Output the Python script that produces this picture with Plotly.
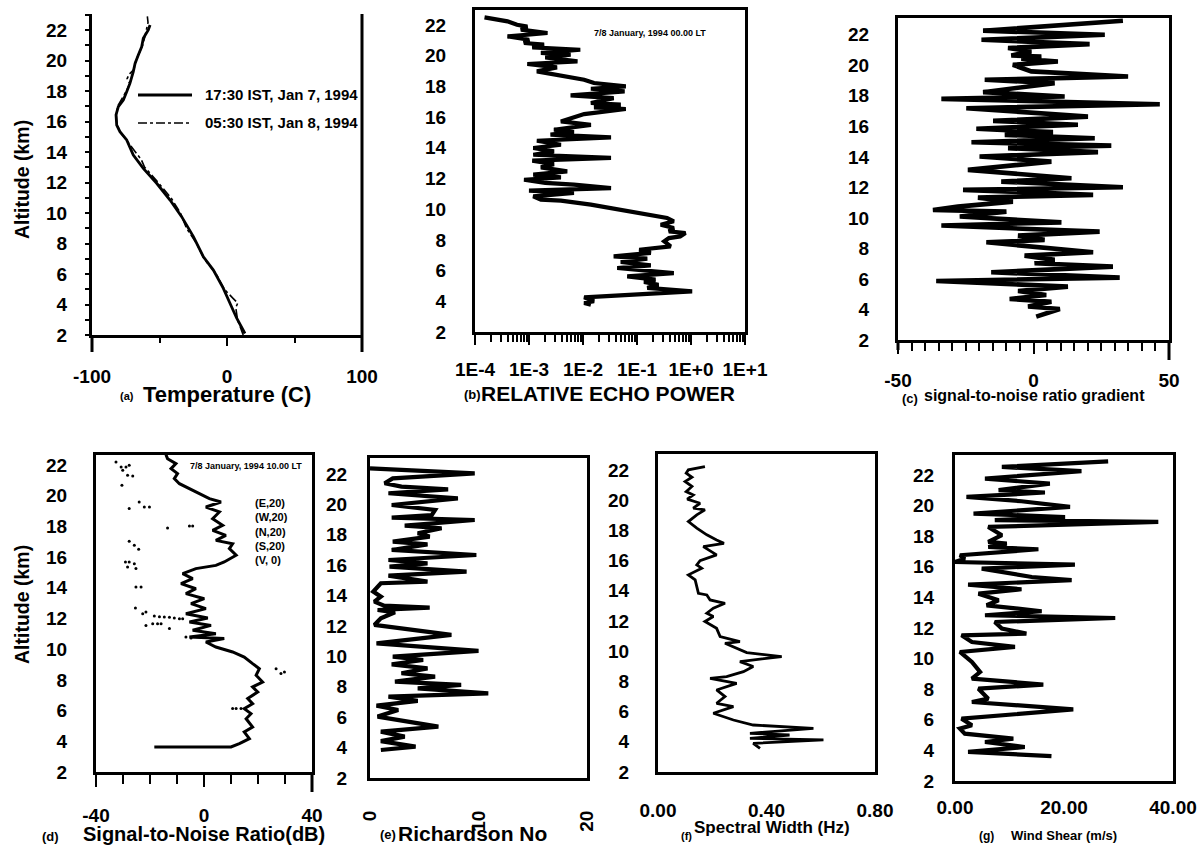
import plotly.graph_objects as go

# ---------------- data ----------------
# (a) temperature profiles
alt_t_jan7 = [2.1, 3.1, 4.08, 5.06, 6.26, 7.13, 8.45, 9.76, 10.85, 11.95, 12.93, 13.8, 14.79, 15.33,
              15.77, 16.43, 16.97, 17.41, 17.95, 18.5, 19.27, 19.81, 20.36, 20.9, 21.46, 22.0, 22.33]
temp_jan7 = [13.3, 7.2, 2.2, -2.7, -10.1, -17.5, -24.9, -33.6, -42.2, -52.1, -62.0, -69.4, -74.3, -79.3,
             -81.7, -82.2, -80.5, -76.8, -74.3, -71.9, -69.4, -68.1, -65.7, -63.2, -62.0, -58.3, -57.0]
alt_t_jan8 = [2.0, 3.0, 3.8, 4.1, 4.4, 5.0, 6.0, 7.0, 8.0, 9.0, 10.0, 11.0, 12.0, 13.0, 13.5, 14.0, 14.8,
              15.3, 15.8, 16.4, 17.0, 17.5, 18.0, 18.5, 18.8, 19.1, 19.4, 20.0, 20.5, 21.0, 21.5, 22.0,
              22.5, 22.9]
temp_jan8 = [12.0, 7.8, 6.5, 8.0, 4.5, -2.0, -8.0, -17.0, -22.5, -30.0, -34.5, -41.5, -51.0, -61.0, -63.5,
             -68.0, -74.5, -79.0, -81.5, -82.0, -81.0, -77.5, -74.5, -72.0, -74.0, -72.5, -69.0, -67.5,
             -65.0, -62.5, -61.0, -59.5, -58.5, -59.0]

# (b) relative echo power
alt_echo = [22.50, 22.24, 22.02, 21.90, 21.70, 21.48, 21.26, 21.04, 20.83, 20.72, 20.55, 20.39, 20.18,
            20.07, 19.89, 19.63, 19.46, 19.24, 18.98, 18.81, 18.44, 18.22, 18.00, 17.85, 17.68, 17.42,
            17.24, 16.92, 16.81, 16.64, 16.53, 16.20, 15.72, 15.50, 15.18, 15.03, 14.86, 14.68, 14.46,
            14.20, 13.99, 13.77, 13.55, 13.34, 13.16, 12.94, 12.73, 12.47, 12.25, 12.08, 11.92, 11.71,
            11.60, 11.38, 11.21, 11.06, 10.84, 10.62, 10.56, 10.30, 9.97, 9.64, 9.43, 9.21, 8.99, 8.78,
            8.56, 8.45, 8.23, 8.12, 7.91, 7.58, 7.36, 7.15, 6.93, 6.78, 6.56, 6.34, 6.17, 5.84, 5.63,
            5.41, 5.26, 5.08, 4.87, 4.65, 4.26, 4.00, 3.89, 3.78]
echo_power = [1.5e-4, 4.0e-4, 6.0e-4, 9.3e-4, 7.1e-4, 2.2e-3, 4.0e-4, 1.0e-3, 8.1e-4, 1.9e-3, 1.15e-3,
              8.9e-3, 1.66e-3, 5.9e-3, 2.0e-3, 7.9e-3, 9.3e-4, 3.3e-3, 1.4e-3, 2.5e-3, 1.05e-2, 1.6e-2,
              6.2e-2, 1.4e-2, 5.9e-2, 5.9e-3, 3.7e-2, 1.4e-2, 5.0e-2, 1.6e-2, 6.2e-2, 1.05e-2, 3.9e-3,
              1.4e-2, 2.9e-3, 6.8e-3, 2.5e-3, 3.3e-2, 1.4e-3, 3.9e-3, 1.2e-3, 2.9e-3, 1.2e-3, 3.3e-2,
              1.15e-3, 2.9e-3, 1.66e-3, 5.1e-3, 1.2e-3, 3.9e-3, 8.1e-4, 2.0e-3, 6.8e-3, 3.3e-2, 1.0e-3,
              6.8e-3, 1.2e-3, 1.66e-3, 3.9e-3, 1.4e-2, 5.0e-2, 1.55e-1, 3.6e-1, 4.8e-1, 2.75e-1, 4.8e-1,
              3.9e-1, 7.9e-1, 6.3e-1, 3.9e-1, 3.2e-1, 4.2e-1, 1.1e-1, 1.8e-1, 3.7e-2, 1.55e-1, 5.0e-2,
              1.8e-1, 4.3e-2, 4.8e-1, 6.6e-2, 2.2e-1, 1.35e-1, 2.5e-1, 1.55e-1, 1.05, 1.05e-2, 1.6e-2,
              1.05e-2, 1.4e-2]

# (c) signal-to-noise ratio gradient
alt_grad = [22.92, 22.66, 22.27, 22.00, 21.67, 21.39, 21.13, 20.91, 20.64, 20.58, 20.43, 20.25, 20.03,
            19.60, 19.27, 19.05, 18.83, 18.24, 17.96, 17.80, 17.45, 17.19, 16.64, 16.36, 16.10, 15.84,
            15.62, 15.44, 15.22, 14.96, 14.74, 14.57, 14.31, 14.02, 13.69, 13.15, 12.60, 12.38, 12.01,
            11.84, 11.51, 11.33, 11.07, 10.74, 10.52, 10.41, 10.09, 9.71, 9.50, 9.10, 8.84, 8.56, 8.40,
            7.75, 7.53, 7.25, 7.03, 6.81, 6.44, 6.09, 5.87, 5.50, 5.21, 4.95, 4.69, 4.51, 4.19, 4.03,
            3.53]
snr_grad = [33.0, 11.5, -18.6, 26.3, -19.2, 20.7, -9.4, -0.8, -8.2, 2.9, -4.5, 9.0, -7.6, -0.8, 34.9,
            -18.0, 7.8, -18.6, 11.5, -34.0, 46.6, -24.8, 20.1, -14.9, 16.4, -21.1, 7.2, -10.6, 22.6,
            -22.9, 28.7, -9.4, 23.8, -19.9, 6.6, -24.2, 14.0, -11.9, 33.0, -26.0, 22.0, -20.5, -7.6,
            -27.9, -37.1, -10.0, -27.2, 10.3, -34.0, 24.4, -5.7, 4.1, -17.4, 22.0, -3.3, 7.8, 0.4, 29.3,
            -15.6, 31.8, -35.9, 12.7, -5.7, 4.7, -8.8, 6.6, -2.0, 9.7, 1.0]

# (d) signal-to-noise ratio, averaged profile and scattered beam values
alt_snr = [3.63, 3.63, 3.85, 4.17, 4.61, 4.93, 5.47, 5.80, 6.13, 6.45, 6.78, 7.21, 7.54, 7.86, 8.30,
           8.73, 9.06, 9.49, 9.82, 10.14, 10.47, 10.69, 10.79, 11.01, 11.23, 11.55, 11.77, 12.03, 12.31,
           12.64, 12.97, 13.29, 13.62, 13.94, 14.27, 14.60, 14.92, 15.25, 15.46, 15.68, 16.12, 16.55,
           16.87, 17.09, 17.42, 17.74, 18.07, 18.50, 18.94, 19.26, 19.59, 19.81, 20.13, 20.46, 20.78,
           21.11, 21.44, 21.76, 22.09, 22.41, 22.67]
snr = [-18.4, 10.0, 13.1, 16.8, 14.9, 18.0, 15.6, 17.4, 14.9, 18.0, 16.2, 19.9, 18.0, 21.7, 19.3, 20.5,
       18.0, 14.9, 10.6, 4.4, 0.7, 7.5, -5.4, 4.4, -4.2, 2.6, -5.4, 1.4, -6.7, 0.7, -4.8, 0.1, -6.7,
       -3.0, -8.5, -4.2, -7.9, -3.0, 4.4, 7.5, 11.9, 9.4, 10.6, 4.4, 8.1, 3.2, 6.9, 3.2, 5.7, 0.7, 6.3,
       2.0, -1.7, -5.4, -9.1, -11.0, -9.8, -12.2, -10.4, -13.5, -14.1]
alt_snr_dots = [22.20, 21.87, 21.87, 21.98, 21.65, 21.33, 21.28, 20.68, 19.16, 19.59, 19.26, 19.26, 17.90,
                18.03, 18.03, 17.03, 16.77, 16.51, 15.68, 15.68, 15.57, 15.36, 15.25, 14.05, 14.05,
                12.68, 12.31, 12.42, 12.16, 12.12, 12.10, 12.08, 12.03, 11.99, 11.99, 11.55, 11.66,
                11.66, 11.66, 11.34, 10.79, 10.73, 8.73, 8.41, 8.51, 6.13, 6.13, 6.13]
snr_dots = [-32.6, -30.7, -28.9, -27.7, -30.1, -28.3, -26.4, -30.4, -27.7, -24.0, -22.1, -20.2, -13.5,
            -5.4, -4.2, -27.7, -25.8, -24.2, -29.1, -27.7, -25.8, -28.3, -25.2, -25.2, -23.3, -25.4,
            -22.7, -21.5, -18.4, -16.5, -14.7, -12.8, -11.0, -9.1, -7.9, -21.5, -19.0, -17.2, -15.9,
            -12.8, -6.7, -4.8, 26.7, 28.5, 29.8, 10.6, 11.9, 13.7]
beam_labels = ["(E,20)", "(W,20)", "(N,20)", "(S,20)", "(V, 0)"]

# (e) Richardson number
alt_ri = [22.37, 22.04, 21.71, 21.39, 21.17, 20.99, 20.73, 20.40, 19.96, 19.63, 19.30, 19.13, 18.97,
          18.60, 18.43, 18.10, 17.88, 17.55, 17.37, 17.00, 16.67, 16.34, 16.12, 15.90, 15.57, 15.31,
          14.92, 14.81, 14.26, 13.93, 13.60, 13.34, 13.21, 13.05, 12.90, 12.50, 12.07, 11.74, 11.41,
          10.86, 10.64, 10.36, 9.98, 9.76, 9.48, 9.21, 8.89, 8.67, 8.34, 8.12, 7.90, 7.57, 7.35, 7.07,
          6.76, 6.47, 6.04, 5.38, 5.05, 4.72, 4.43, 4.06, 3.84]
richardson = [0.0, 9.65, 2.1, 1.35, 2.9, 7.2, 1.7, 8.1, 2.0, 6.0, 5.7, 2.0, 9.65, 3.2, 6.6, 4.4, 5.5,
              2.1, 5.3, 2.0, 9.8, 1.7, 5.3, 1.8, 8.9, 1.7, 5.3, 1.0, 0.3, 1.0, 0.4, 1.3, 5.5, 0.7, 2.3,
              1.0, 0.4, 3.8, 7.5, 0.6, 4.4, 10.0, 2.1, 4.9, 2.0, 5.3, 2.9, 6.0, 2.3, 8.4, 4.4, 10.9, 1.7,
              4.4, 0.6, 2.6, 0.7, 6.3, 1.0, 3.2, 1.0, 4.2, 1.0]

# (f) spectral width
alt_sw = [22.22, 22.00, 21.78, 21.51, 21.23, 20.90, 20.56, 20.34, 20.06, 19.79, 19.46, 19.35, 19.02,
          18.58, 18.14, 17.70, 17.36, 17.14, 16.92, 16.37, 15.99, 15.71, 15.49, 15.05, 14.72, 14.27,
          13.83, 13.72, 13.39, 13.17, 12.84, 12.51, 12.29, 11.96, 11.51, 10.96, 10.63, 10.52, 10.19,
          9.90, 9.64, 9.31, 8.98, 8.64, 8.31, 8.20, 7.87, 7.43, 6.99, 6.55, 6.33, 5.89, 5.44, 5.11,
          4.89, 4.56, 4.45, 4.23, 4.12, 3.90, 3.57]
spectral_width = [0.173, 0.112, 0.104, 0.125, 0.100, 0.125, 0.104, 0.130, 0.108, 0.155, 0.130, 0.173,
                  0.143, 0.112, 0.143, 0.180, 0.216, 0.243, 0.167, 0.216, 0.155, 0.143, 0.161, 0.112,
                  0.137, 0.143, 0.149, 0.180, 0.192, 0.247, 0.204, 0.180, 0.204, 0.173, 0.216, 0.229,
                  0.302, 0.247, 0.290, 0.327, 0.456, 0.302, 0.351, 0.315, 0.253, 0.192, 0.290, 0.216,
                  0.247, 0.216, 0.278, 0.204, 0.278, 0.351, 0.573, 0.339, 0.485, 0.339, 0.610, 0.351,
                  0.376]

# (g) wind shear
alt_ws = [22.89, 22.52, 22.24, 21.76, 21.43, 21.00, 20.85, 20.56, 20.28, 19.91, 19.47, 19.25, 19.04,
          18.93, 18.60, 18.06, 17.62, 17.51, 17.29, 17.14, 16.75, 16.53, 16.31, 16.14, 15.88, 15.33,
          15.12, 14.83, 14.53, 14.24, 13.81, 13.48, 13.09, 12.83, 12.65, 12.39, 11.96, 11.63, 11.52,
          11.08, 10.76, 10.43, 9.78, 9.12, 8.69, 8.30, 8.03, 7.38, 7.16, 6.68, 6.07, 5.64, 5.42, 5.09,
          4.77, 4.55, 4.22, 3.90, 3.63]
wind_shear = [28.1, 8.6, 23.2, 5.5, 17.4, 8.0, 16.5, 2.1, 12.2, 21.1, 3.4, 20.2, 7.3, 37.3, 6.1, 8.6,
              6.1, 9.5, 6.1, 15.3, 0.9, 1.8, 0.0, 22.0, 4.9, 14.1, 21.4, 2.4, 12.2, 4.3, 8.0, 5.8, 15.9,
              5.5, 29.4, 7.3, 8.6, 13.1, 1.2, 3.1, 11.0, 0.9, 3.1, 4.6, 3.1, 16.2, 4.3, 6.1, 3.1, 21.7,
              1.2, 3.1, 0.9, 1.8, 10.7, 5.5, 12.8, 2.4, 17.7]

altitude_ticks = [2, 4, 6, 8, 10, 12, 14, 16, 18, 20, 22]

# ---------------- layout helpers ----------------
W, H = 1201, 858
FONT = "Liberation Sans, Arial, sans-serif"


def fx(px):
    return px / W


def fy(py):
    return 1 - py / H


def tfont(size):
    return dict(family=FONT, size=size, color="black", weight="bold")


fig = go.Figure()

LINE = "black"

# (a)
fig.add_trace(go.Scatter(x=temp_jan7, y=alt_t_jan7, mode="lines",
                         line=dict(color=LINE, width=2.8), xaxis="x", yaxis="y"))
fig.add_trace(go.Scatter(x=temp_jan8, y=alt_t_jan8, mode="lines",
                         line=dict(color=LINE, width=1.6, dash="dashdot"), xaxis="x", yaxis="y"))
# (b)
fig.add_trace(go.Scatter(x=echo_power, y=alt_echo, mode="lines",
                         line=dict(color=LINE, width=4.2), xaxis="x2", yaxis="y2"))
# (c)
fig.add_trace(go.Scatter(x=snr_grad, y=alt_grad, mode="lines",
                         line=dict(color=LINE, width=4.6), xaxis="x3", yaxis="y3"))
# (d)
fig.add_trace(go.Scatter(x=snr, y=alt_snr, mode="lines",
                         line=dict(color=LINE, width=3.0), xaxis="x4", yaxis="y4"))
fig.add_trace(go.Scatter(x=snr_dots, y=alt_snr_dots, mode="markers",
                         marker=dict(color=LINE, size=3), xaxis="x4", yaxis="y4"))
# (e)
fig.add_trace(go.Scatter(x=richardson, y=alt_ri, mode="lines",
                         line=dict(color=LINE, width=4.2), xaxis="x5", yaxis="y5"))
# (f)
fig.add_trace(go.Scatter(x=spectral_width, y=alt_sw, mode="lines",
                         line=dict(color=LINE, width=2.8), xaxis="x6", yaxis="y6"))
# (g)
fig.add_trace(go.Scatter(x=wind_shear, y=alt_ws, mode="lines",
                         line=dict(color=LINE, width=4.2), xaxis="x7", yaxis="y7"))


def xaxis(l, r, anchor, rng, tickvals, ticktext, minor_vals=None, ticklen=0, standoff=14,
          size=19, mirror=True, **kw):
    d = dict(domain=[fx(l), fx(r)], anchor=anchor, range=rng, tickvals=tickvals, ticktext=ticktext,
             showline=True, linecolor="black", linewidth=3, mirror=mirror, showgrid=False,
             zeroline=False, ticks="outside" if ticklen else "", ticklen=ticklen, tickwidth=2,
             tickcolor="black", tickfont=tfont(size), ticklabelstandoff=standoff, fixedrange=True,
             automargin=False)
    if minor_vals:
        d["minor"] = dict(tickvals=minor_vals, ticks="outside", ticklen=max(ticklen - 3, 4),
                          tickwidth=2, tickcolor="black", showgrid=False)
    d.update(kw)
    return d


def yaxis(t, b, anchor, rng, standoff=20, ticklen=0, mirror=True, minor=False):
    d = dict(domain=[fy(b), fy(t)], anchor=anchor, range=rng, tickvals=altitude_ticks,
             showline=True, linecolor="black", linewidth=3, mirror=mirror, showgrid=False,
             zeroline=False, ticks="outside" if ticklen else "", ticklen=ticklen, tickwidth=2,
             tickcolor="black", tickfont=tfont(19), ticklabelstandoff=standoff, fixedrange=True,
             automargin=False)
    if minor:
        d["minor"] = dict(dtick=1, tick0=2, ticks="outside", ticklen=ticklen, tickwidth=2,
                          tickcolor="black", showgrid=False)
    return d


log_minor = [k * 10.0 ** e for e in range(-4, 1) for k in range(2, 10)]

fig.update_layout(
    width=W, height=H, margin=dict(l=0, r=0, t=0, b=0, pad=0, autoexpand=False),
    paper_bgcolor="white", plot_bgcolor="white", showlegend=False,
    xaxis=xaxis(92, 362, "y", [-100, 100], [-100, 0, 100], ["-100", "0", "100"],
                minor_vals=[-50, 50], ticklen=8, standoff=14, mirror=False),
    yaxis=yaxis(14, 335, "x", [2, 23.05], standoff=14, ticklen=4, mirror=False, minor=True),
    xaxis2=xaxis(475, 745, "y2", [-4, 1], [1e-4, 1e-3, 1e-2, 1e-1, 1, 10],
                 ["1E-4", "1E-3", "1E-2", "1E-1", "1E+0", "1E+1"], minor_vals=log_minor,
                 ticklen=10, standoff=8, size=19, type="log"),
    yaxis2=yaxis(10, 332, "x2", [2, 22.98], standoff=22),
    xaxis3=xaxis(898, 1169, "y3", [-50, 50], [-50, 0, 50], ["-50", "0", "50"],
                 minor_vals=[v for v in range(-45, 50, 5) if v != 0], ticklen=11, standoff=10),
    yaxis3=yaxis(18, 340, "x3", [2, 23.1], standoff=22),
    xaxis4=xaxis(96, 312, "y4", [-40, 40], [-40, 0, 40], ["-40", "0", "40"],
                 minor_vals=[-30, -20, -10, 10, 20, 30], ticklen=12, standoff=12),
    yaxis4=yaxis(455, 772, "x4", [2, 22.65], standoff=22),
    xaxis5=xaxis(370, 587, "y5", [0, 20], [0, 10, 20], ["0", "10", "20"], standoff=22,
                 tickangle=-90),
    yaxis5=yaxis(458, 778, "x5", [2, 23.05], standoff=16),
    xaxis6=xaxis(658, 875, "y6", [0, 0.8], [0, 0.4, 0.8], ["0.00", "0.40", "0.80"], standoff=19),
    yaxis6=yaxis(454, 772, "x6", [2, 23.05], standoff=22),
    xaxis7=xaxis(955, 1173, "y7", [0, 40], [0, 20, 40], ["0.00", "20.00", "40.00"], standoff=7),
    yaxis7=yaxis(455, 781, "x7", [2, 23.3], standoff=14),
)

# right-hand frame edge of panel (a) and downward extensions of the frame edges
shapes = [
    dict(type="line", xref="paper", yref="paper", x0=fx(362), x1=fx(362), y0=fy(352), y1=fy(14),
         line=dict(color="black", width=3)),
    dict(type="line", xref="paper", yref="paper", x0=fx(92), x1=fx(92), y0=fy(352), y1=fy(335),
         line=dict(color="black", width=3)),
    dict(type="line", xref="paper", yref="paper", x0=fx(898), x1=fx(898), y0=fy(350), y1=fy(340),
         line=dict(color="black", width=3)),
    dict(type="line", xref="paper", yref="paper", x0=fx(1169), x1=fx(1169), y0=fy(360), y1=fy(340),
         line=dict(color="black", width=3)),
    dict(type="line", xref="paper", yref="paper", x0=fx(312), x1=fx(312), y0=fy(792), y1=fy(772),
         line=dict(color="black", width=3)),
    # legend samples for panel (a)
    dict(type="line", xref="paper", yref="paper", x0=fx(138), x1=fx(192), y0=fy(95), y1=fy(95),
         line=dict(color="black", width=2.8)),
    dict(type="line", xref="paper", yref="paper", x0=fx(138), x1=fx(192), y0=fy(123), y1=fy(123),
         line=dict(color="black", width=1.6, dash="dashdot")),
]
fig.update_layout(shapes=shapes)


def note(text, x, y, size, xanchor="left", textangle=0, align="left"):
    fig.add_annotation(text=text, x=fx(x), y=fy(y), xref="paper", yref="paper", showarrow=False,
                       xanchor=xanchor, yanchor="middle", font=tfont(size), textangle=textangle,
                       align=align)


# legend text, panel (a)
note("17:30 IST, Jan 7, 1994", 203, 95, 15)
note("05:30 IST, Jan 8, 1994", 203, 123, 15)

# time stamps
note("7/8 January, 1994 00.00 LT", 592, 33, 9)
note("7/8 January, 1994 10.00 LT", 188, 466, 9)

# beam legend, panel (d): one stacked block
note("<br>".join(beam_labels), 253, 531, 11)

# axis titles
note("Altitude (km)", 22, 180, 19.5, xanchor="center", textangle=-90)
note("Altitude (km)", 22, 605, 19.5, xanchor="center", textangle=-90)

note("(a)", 118, 396, 11)
note("Temperature (C)", 141, 394, 22)
note("(b)", 462, 394, 13)
note("RELATIVE ECHO POWER", 479, 393, 21)
note("(c)", 900, 399, 13)
note("signal-to-noise ratio gradient", 922, 395, 16)
note("(d)", 40, 836, 13)
note("Signal-to-Noise Ratio(dB)", 81, 834, 20)
note("(e)", 378, 834, 13)
note("Richardson No", 396, 833, 21)
note("(f)", 679, 836, 11)
note("Spectral Width (Hz)", 692, 827, 17)
note("(g)", 977, 836, 12)
note("Wind Shear (m/s)", 1009, 835, 13)

fig.write_html("out.html")
